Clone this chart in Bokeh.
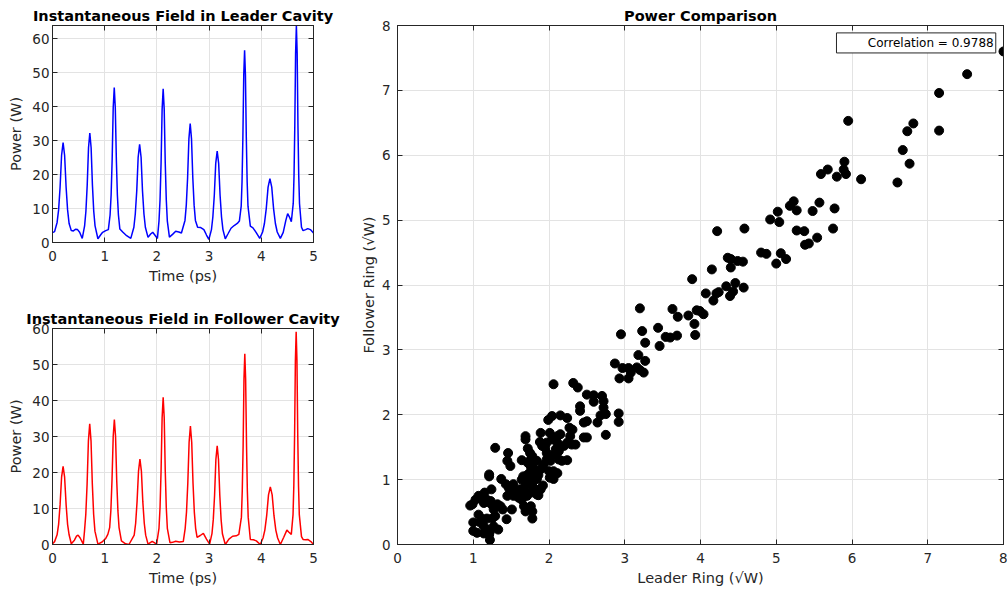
from bokeh.plotting import figure
from bokeh.models import Range1d, LinearAxis, BoxAnnotation, Label, FixedTicker
from bokeh.layouts import row, column
from bokeh.embed import file_html
from bokeh.resources import INLINE

# ---------------- data ----------------
leader_time = [0.00, 0.04, 0.088, 0.117, 0.145, 0.174, 0.203, 0.232, 0.261, 0.289, 0.318, 0.36, 0.40, 0.44, 0.48, 0.52, 0.57,
               0.615, 0.64, 0.665, 0.69, 0.715, 0.74, 0.765, 0.79, 0.815, 0.87, 0.92, 0.96, 1.02, 1.07,
               1.103, 1.123, 1.143, 1.163, 1.183, 1.203, 1.223, 1.243, 1.263, 1.29, 1.35, 1.42, 1.50,
               1.559, 1.586, 1.614, 1.641, 1.669, 1.697, 1.724, 1.752, 1.779, 1.83, 1.88, 1.92, 1.96, 2.01,
               2.04, 2.06, 2.08, 2.10, 2.12, 2.14, 2.16, 2.18, 2.20, 2.24, 2.30, 2.36, 2.42, 2.47,
               2.538, 2.563, 2.588, 2.613, 2.638, 2.663, 2.688, 2.713, 2.738, 2.78, 2.84, 2.90, 2.95, 2.995,
               3.045, 3.072, 3.10, 3.127, 3.155, 3.183, 3.21, 3.238, 3.265, 3.31, 3.36, 3.42, 3.48, 3.54, 3.58,
               3.615, 3.631, 3.647, 3.664, 3.68, 3.696, 3.713, 3.729, 3.745, 3.79, 3.84, 3.90, 3.97,
               4.025, 4.06, 4.095, 4.13, 4.165, 4.20, 4.235, 4.27, 4.305, 4.365, 4.42, 4.47, 4.505, 4.54, 4.575,
               4.612, 4.627, 4.642, 4.657, 4.672, 4.687, 4.702, 4.717, 4.732, 4.77, 4.80, 4.85, 4.89, 4.94, 5.00]
leader_power = [2.9, 3.2, 5.9, 9.6, 16.2, 25.7, 29.4, 25.7, 16.2, 9.6, 5.6, 3.5, 3.4, 3.9, 3.8, 3.0, 1.2,
                4.9, 9.2, 16.9, 27.9, 32.2, 27.9, 16.9, 9.2, 4.9, 1.1, 2.2, 3.0, 3.5, 3.8,
                8.1, 14.0, 24.5, 39.7, 45.6, 39.7, 24.5, 14.0, 8.1, 4.0, 3.0, 2.0, 1.2,
                4.5, 8.4, 15.2, 25.1, 28.9, 25.1, 15.2, 8.4, 4.5, 1.5, 2.5, 3.0, 2.2, 1.2,
                6.3, 12.5, 23.4, 39.2, 45.3, 39.2, 23.4, 12.5, 6.3, 1.6, 2.4, 3.3, 3.1, 2.8,
                6.5, 11.0, 19.0, 30.5, 35.0, 30.5, 19.0, 11.0, 6.5, 4.5, 4.4, 3.8, 2.2, 0.9,
                3.8, 7.5, 14.0, 23.3, 26.9, 23.3, 14.0, 7.5, 3.8, 1.1, 2.5, 4.2, 5.0, 5.6, 6.3,
                10.7, 17.9, 30.8, 49.4, 56.6, 49.4, 30.8, 17.9, 10.7, 4.8, 4.3, 3.0, 1.2,
                3.1, 5.6, 10.0, 16.3, 18.8, 16.3, 10.0, 5.6, 3.1, 1.2, 3.0, 6.5, 8.5, 7.5, 6.1,
                11.5, 19.7, 34.5, 55.7, 63.9, 55.7, 34.5, 19.7, 11.5, 4.5, 3.5, 3.8, 4.1, 3.8, 2.8]

follower_time = [0.00, 0.04, 0.088, 0.117, 0.145, 0.174, 0.203, 0.232, 0.261, 0.289, 0.318, 0.36, 0.42, 0.46, 0.49, 0.53, 0.59,
                 0.613, 0.638, 0.663, 0.688, 0.713, 0.738, 0.763, 0.788, 0.813, 0.87, 0.95, 1.02, 1.06,
                 1.095, 1.118, 1.14, 1.163, 1.185, 1.208, 1.23, 1.253, 1.275, 1.32, 1.40, 1.465,
                 1.565, 1.593, 1.62, 1.648, 1.675, 1.703, 1.73, 1.758, 1.785, 1.83, 1.91, 1.995,
                 2.04, 2.06, 2.08, 2.10, 2.12, 2.14, 2.16, 2.18, 2.20, 2.25, 2.30, 2.36, 2.43, 2.505,
                 2.542, 2.567, 2.592, 2.617, 2.642, 2.667, 2.692, 2.717, 2.742, 2.77, 2.83, 2.89, 2.95, 3.01,
                 3.055, 3.08, 3.105, 3.13, 3.155, 3.18, 3.205, 3.23, 3.255, 3.31, 3.38, 3.45, 3.52, 3.57,
                 3.619, 3.635, 3.652, 3.668, 3.684, 3.70, 3.717, 3.733, 3.749, 3.79, 3.85, 3.905, 3.98,
                 4.033, 4.068, 4.103, 4.138, 4.173, 4.208, 4.243, 4.278, 4.313, 4.365, 4.43, 4.49, 4.53, 4.575,
                 4.608, 4.623, 4.638, 4.653, 4.668, 4.683, 4.698, 4.713, 4.728, 4.77, 4.80, 4.85, 4.89, 4.95, 5.00]
follower_power = [0.2, 0.8, 2.7, 5.6, 11.0, 18.7, 21.7, 18.7, 11.0, 5.6, 2.7, 0.2, 1.2, 2.3, 2.6, 1.8, 0.1,
                  3.7, 8.4, 16.8, 28.8, 33.5, 28.8, 16.8, 8.4, 3.7, 0.1, 0.7, 1.7, 2.8,
                  4.7, 9.4, 17.9, 30.0, 34.7, 30.0, 17.9, 9.4, 4.7, 1.0, 0.2, 0.0,
                  2.6, 5.9, 11.9, 20.4, 23.7, 20.4, 11.9, 5.9, 2.6, 0.1, 0.9, 0.1,
                  4.5, 10.2, 20.5, 35.2, 40.9, 35.2, 20.5, 10.2, 4.5, 0.5, 0.6, 0.9, 0.7, 0.8,
                  4.5, 9.0, 17.0, 28.4, 32.9, 28.4, 17.0, 9.0, 4.5, 2.0, 2.5, 3.1, 1.5, 0.1,
                  3.0, 6.9, 13.7, 23.6, 27.4, 23.6, 13.7, 6.9, 3.0, 0.0, 1.5, 2.3, 2.4, 2.8,
                  7.6, 14.8, 27.5, 45.9, 53.0, 45.9, 27.5, 14.8, 7.6, 1.4, 1.3, 1.0, 0.0,
                  1.8, 4.0, 8.0, 13.8, 16.0, 13.8, 8.0, 4.0, 1.8, 0.0, 2.0, 4.0, 3.4, 2.8,
                  8.3, 16.3, 30.6, 51.1, 59.1, 51.1, 30.6, 16.3, 8.3, 2.2, 1.4, 1.3, 1.4, 0.8, 0.0]

leader_ring = [8.00, 7.52, 7.15, 7.15, 6.81, 6.73, 6.67, 6.76, 6.60, 5.95, 6.12, 5.90, 5.89, 5.92, 5.80, 5.68, 5.59, 5.57,
               5.77, 5.75, 5.48, 5.23, 5.18, 5.27, 5.02, 4.92, 5.04, 5.27, 5.37, 5.54, 5.38, 5.43, 4.22, 4.58, 4.80,
               4.87, 5.06, 5.00, 5.13, 4.36, 4.40, 4.49, 4.56, 4.40, 4.15, 3.89,
               4.34, 4.46, 4.57, 4.24, 4.21, 4.07, 4.43, 4.39, 4.17,
               3.20, 3.63, 3.70, 3.84, 3.92, 3.95, 3.99, 4.04,
               2.95, 3.23, 3.27, 3.44, 3.46, 3.54, 3.60, 3.69, 3.93,
               3.18, 2.87, 2.97, 3.05, 3.08, 3.16, 3.20, 3.25, 3.27, 2.93, 3.05,
               2.92, 2.92, 2.06, 2.32, 2.38, 2.50, 2.59, 2.70, 2.72, 2.41, 2.41, 2.59, 2.72, 2.75, 2.68, 2.64,
               2.50, 2.46, 2.75, 2.46, 2.50, 2.04, 2.15, 2.24, 1.99, 2.27, 2.31, 2.28, 2.24, 2.35, 2.20, 2.30,
               1.89, 2.01, 2.04, 2.11, 2.15, 1.97, 2.11, 1.69, 1.69, 1.88, 1.91, 1.72, 1.75, 2.09, 2.13, 2.07,
               1.97, 1.95, 2.13, 2.24, 2.17, 1.29, 1.46, 1.45, 1.49, 1.64, 1.76, 1.78, 1.80, 1.89, 1.84, 1.93,
               1.97, 2.02, 2.00, 2.06, 2.11, 2.01, 2.06, 1.21, 1.21, 1.37, 1.64, 1.69, 1.73, 1.80, 1.84, 1.71,
               1.76, 1.78, 1.80, 1.43, 1.47, 1.53, 1.49, 1.45, 1.53, 1.58, 1.62, 1.67, 1.64, 1.69, 1.60, 1.64,
               1.71, 1.76, 1.84, 1.92, 1.89, 1.86, 1.51, 1.69, 1.67, 1.76, 1.78, 1.78, 1.44, 1.36, 1.39, 1.27,
               1.32, 1.23, 1.18, 1.14, 1.09, 1.03, 0.96, 1.24, 1.15, 1.07, 1.24, 1.00, 1.00, 1.07, 1.09, 1.14,
               1.18, 1.21, 1.22, 1.14, 1.27, 1.25, 1.29, 1.33, 1.11, 1.18, 1.05, 1.22, 0.99,
               1.74, 1.70, 1.82, 1.76, 1.86, 1.66, 1.78, 1.72]
follower_ring = [7.60, 7.25, 6.96, 6.38, 6.49, 6.37, 6.08, 5.87, 5.58, 6.53, 5.63, 5.90, 5.78, 5.71, 5.67, 5.78, 5.71, 5.27,
                 5.18, 4.87, 5.14, 5.29, 5.22, 5.15, 5.13, 5.01, 4.97, 4.84, 4.83, 4.73, 4.62, 4.64, 4.83, 4.87, 4.50,
                 4.48, 4.49, 4.33, 4.40, 4.42, 4.40, 4.37, 4.36, 4.27, 4.24, 4.09,
                 3.98, 4.03, 3.96, 3.89, 3.87, 3.87, 3.90, 3.83, 3.76,
                 3.64, 3.63, 3.51, 3.53, 3.40, 3.61, 3.60, 3.55,
                 3.24, 3.29, 3.11, 3.34, 3.06, 3.20, 3.19, 3.22, 3.23,
                 2.92, 2.79, 2.72, 2.72, 2.65, 2.73, 2.69, 2.65, 2.83, 2.56, 2.56,
                 2.02, 1.89, 2.47, 2.49, 2.42, 2.31, 2.30, 2.29, 2.21, 2.13, 2.06, 2.20, 2.11, 2.01, 1.99, 1.88,
                 1.90, 1.88, 1.69, 1.65, 1.65, 1.98, 1.99, 1.95, 1.92, 1.80, 1.77, 1.67, 1.57, 1.54, 1.52, 1.54,
                 1.72, 1.72, 1.62, 1.67, 1.70, 1.57, 1.57, 1.67, 1.62, 1.58, 1.52, 1.48, 1.41, 1.47, 1.44, 1.39,
                 1.41, 1.49, 1.31, 1.30, 1.29, 1.49, 1.41, 1.29, 1.21, 1.30, 1.31, 1.23, 1.16, 1.16, 1.29, 1.23,
                 1.31, 1.29, 1.13, 1.13, 1.10, 1.03, 1.01, 1.08, 1.05, 1.01, 1.00, 1.00, 1.01, 1.03, 1.01, 0.95,
                 0.93, 0.95, 0.87, 0.93, 0.87, 0.93, 0.80, 0.75, 0.75, 0.82, 0.85, 0.87, 0.80, 0.77, 0.72, 0.69,
                 0.75, 0.80, 0.77, 0.91, 0.85, 0.76, 0.54, 0.51, 0.59, 0.59, 0.51, 0.40, 0.39, 0.59, 0.54, 0.54,
                 0.62, 0.67, 0.69, 0.64, 0.72, 0.69, 0.60, 0.85, 0.80, 0.75, 0.62, 0.34, 0.21, 0.46, 0.34, 0.28,
                 0.23, 0.15, 0.07, 0.17, 0.28, 0.40, 0.44, 0.23, 0.40, 0.40, 0.18, 0.20, 0.62,
                 1.10, 1.06, 1.12, 1.20, 1.07, 1.05, 1.36, 1.26]

time_ticks = [0, 1, 2, 3, 4, 5]
power_ticks = [0, 10, 20, 30, 40, 50, 60]
ring_ticks = [0, 1, 2, 3, 4, 5, 6, 7, 8]
correlation_text = "Correlation = 0.9788"

# ---------------- style ----------------
FONT = "DejaVu Sans"
TXT = "#262626"
GRID = "#e3e3e3"


def style(p, xticks, yticks, tick_standoff_y, axis_label_standoff_y):
    p.background_fill_color = "white"
    p.border_fill_color = "white"
    p.outline_line_color = TXT
    p.outline_line_width = 1
    p.grid.grid_line_color = GRID
    p.grid.grid_line_width = 1
    p.xaxis.ticker = FixedTicker(ticks=xticks)
    p.yaxis.ticker = FixedTicker(ticks=yticks)
    p.xgrid.ticker = FixedTicker(ticks=xticks)
    p.ygrid.ticker = FixedTicker(ticks=yticks)
    for ax in p.xaxis + p.yaxis:
        ax.axis_line_color = TXT
        ax.major_tick_line_color = TXT
        ax.major_tick_in = 5
        ax.major_tick_out = 0
        ax.minor_tick_line_color = None
        ax.major_label_text_font = FONT
        ax.major_label_text_font_size = "13.5px"
        ax.major_label_text_color = TXT
        ax.axis_label_text_font = FONT
        ax.axis_label_text_font_size = "14.5px"
        ax.axis_label_text_font_style = "normal"
        ax.axis_label_text_color = TXT
    p.xaxis.major_label_standoff = 8
    p.xaxis.axis_label_standoff = 4
    p.yaxis.major_label_standoff = tick_standoff_y
    p.yaxis.axis_label_standoff = axis_label_standoff_y
    # box ticks on top and right (no labels drawn)
    for loc, tk in (("right", yticks), ("above", xticks)):
        ax = LinearAxis(ticker=FixedTicker(ticks=tk))
        ax.major_label_text_font_size = "1px"
        ax.major_label_text_color = None
        ax.major_label_standoff = 0
        ax.major_tick_in = 5
        ax.major_tick_out = 0
        ax.minor_tick_line_color = None
        ax.axis_line_color = TXT
        ax.major_tick_line_color = TXT
        p.add_layout(ax, loc)
    p.title.text_font = FONT
    p.title.text_font_style = "bold"
    p.title.text_font_size = "14.5px"
    p.title.text_color = "black"
    p.title.align = "center"
    p.title.standoff = 3


p1 = figure(width=340, height=300, x_range=Range1d(0, 5), y_range=Range1d(0, 63.9),
            output_backend="svg", toolbar_location=None,
            min_border_left=52, min_border_right=27, min_border_top=25, min_border_bottom=58,
            title="Instantaneous Field in Leader Cavity",
            x_axis_label="Time (ps)", y_axis_label="Power (W)")
p1.line(leader_time, leader_power, line_color="#0000ff", line_width=1.5)
style(p1, time_ticks, power_ticks, 3, 5)

p2 = figure(width=340, height=296, x_range=Range1d(0, 5), y_range=Range1d(0, 60),
            output_backend="svg", toolbar_location=None,
            min_border_left=52, min_border_right=27, min_border_top=28, min_border_bottom=52,
            title="Instantaneous Field in Follower Cavity",
            x_axis_label="Time (ps)", y_axis_label="Power (W)")
p2.line(follower_time, follower_power, line_color="#ff0000", line_width=1.5)
style(p2, time_ticks, power_ticks, 3, 5)

p3 = figure(width=667, height=596, x_range=Range1d(0, 8), y_range=Range1d(0, 8),
            output_backend="svg", toolbar_location=None,
            min_border_left=57, min_border_right=4, min_border_top=25, min_border_bottom=52,
            title="Power Comparison",
            x_axis_label="Leader Ring (\u221aW)", y_axis_label="Follower Ring (\u221aW)")
p3.scatter(leader_ring, follower_ring, marker="circle", size=9,
           fill_color="black", line_color="black")
style(p3, ring_ticks, ring_ticks, 7, 2)

box = BoxAnnotation(left=5.795, right=7.898, top=7.886, bottom=7.577,
                    fill_color="white", fill_alpha=1.0, line_color=TXT, line_alpha=1.0, line_width=1)
p3.add_layout(box)
lab = Label(x=7.87, y=7.731, text=correlation_text, text_align="right", text_baseline="middle",
            text_font=FONT, text_font_size="12px", text_color="black")
p3.add_layout(lab)

layout = row(column(p1, p2), p3)
open("out.html", "w").write(file_html(layout, INLINE))
